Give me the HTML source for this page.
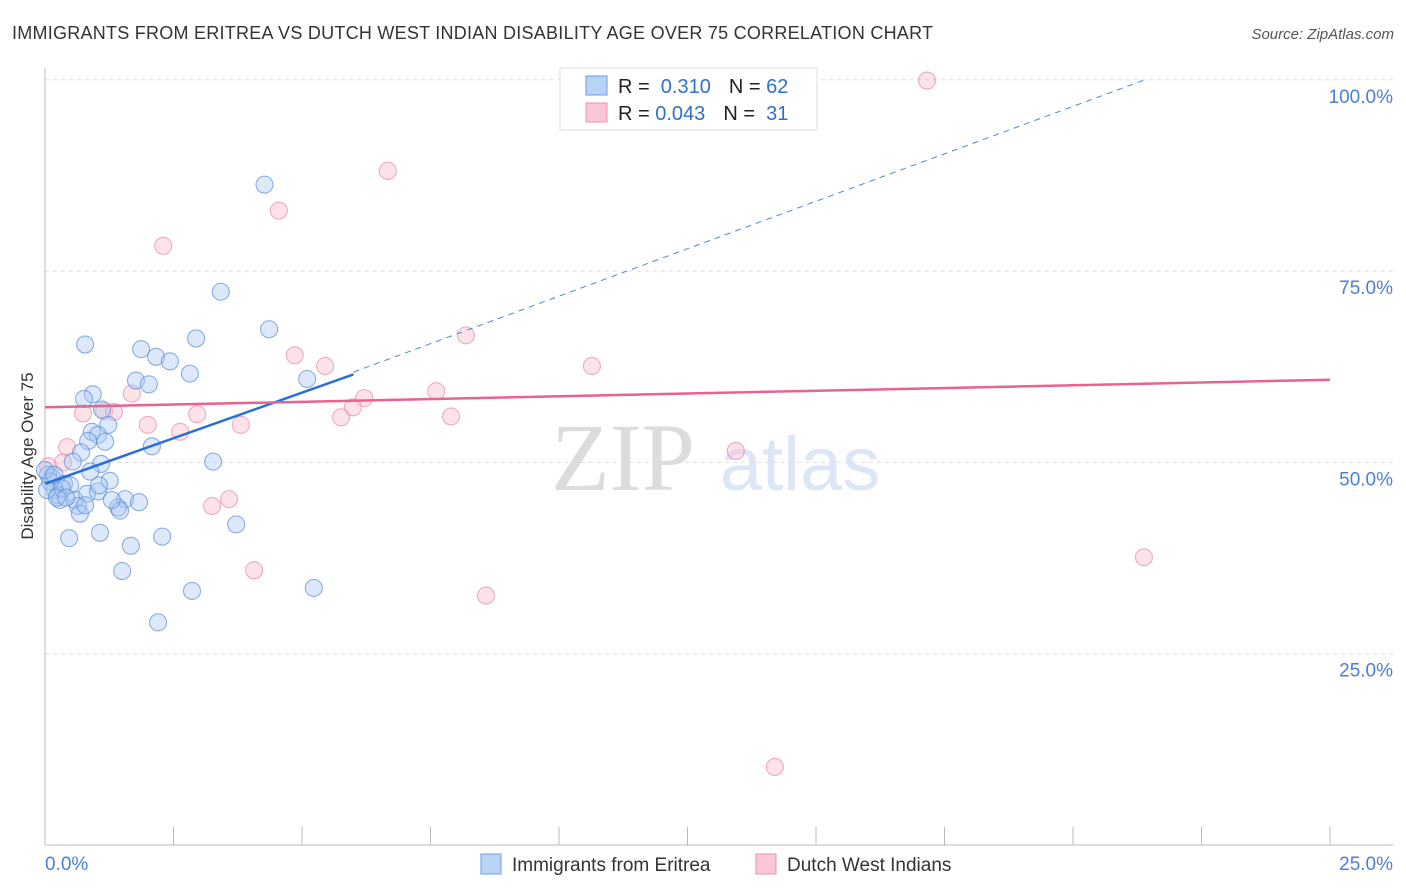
<!DOCTYPE html>
<html><head><meta charset="utf-8"><style>
body{margin:0;background:#fff;font-family:"Liberation Sans",sans-serif;}
svg{display:block}
</style></head><body>
<svg id="c" width="1406" height="892">
<text x="12" y="39" font-size="18" fill="#333" textLength="921">IMMIGRANTS FROM ERITREA VS DUTCH WEST INDIAN DISABILITY AGE OVER 75 CORRELATION CHART</text>
<text x="1394" y="39" font-size="15" fill="#555" font-style="italic" text-anchor="end">Source: ZipAtlas.com</text>
<text x="33" y="456" font-size="17" fill="#333" text-anchor="middle" transform="rotate(-90 33 456)">Disability Age Over 75</text>
<g>
<text x="623" y="490" font-size="96" fill="#dcdcdc" font-family="Liberation Serif,serif" text-anchor="middle">ZIP</text>
<text x="800" y="490" font-size="76" fill="#dbe6f7" text-anchor="middle">atlas</text>
</g>
<g id="grid"></g><g id="marks"></g>
<g>
<rect x="560" y="68" width="257" height="62" fill="#fff" stroke="#ddd"/>
<rect x="586" y="76" width="21" height="19" fill="#b9d3f7" stroke="#6c9de3"/>
<rect x="586" y="103" width="21" height="19" fill="#f9c7d5" stroke="#ec8fab"/>
<text x="618" y="93" font-size="20" fill="#222">R = <tspan fill="#2f6fd3">&#160;0.310</tspan><tspan dx="18">N = </tspan><tspan fill="#2f6fd3">62</tspan></text>
<text x="618" y="120" font-size="20" fill="#222">R = <tspan fill="#2f6fd3">0.043</tspan><tspan dx="18">N = </tspan><tspan fill="#2f6fd3">&#160;31</tspan></text>
</g>
<g>
<rect x="481" y="854" width="20" height="20" fill="#b9d3f7" stroke="#6c9de3"/>
<text x="512" y="871" font-size="19" fill="#333">Immigrants from Eritrea</text>
<rect x="756" y="854" width="20" height="20" fill="#f9c7d5" stroke="#ec8fab"/>
<text x="787" y="871" font-size="19" fill="#333">Dutch West Indians</text>
</g>
<text x="45" y="870" font-size="19" fill="#4a7fd6">0.0%</text>
<text x="1393" y="870" font-size="19" fill="#4a7fd6" text-anchor="end">25.0%</text>
</svg>
<script>
const yTicks=[25,50,75,100];
const blueX=[4.27,3.42,0.78,2.94,4.36,1.87,2.16,2.43,2.82,1.77,2.02,5.10,0.93,0.76,1.11,1.23,0.91,1.03,0.84,1.17,2.08,0.70,0.54,1.09,3.27,0.88,1.26,0.37,0.49,0.14,0.19,0.25,0.29,0.58,0.82,1.03,1.05,1.56,1.83,1.42,1.46,0.64,0.68,3.72,0.47,1.07,1.67,2.28,1.50,2.86,5.23,2.20,0.06,0.10,0.04,0.33,0.23,0.41,0.00,0.18,0.78,1.30];
const blueY=[86.3,72.3,65.4,66.2,67.4,64.8,63.8,63.2,61.6,60.7,60.2,60.9,58.9,58.3,56.9,54.9,54.0,53.6,52.8,52.7,52.1,51.3,50.1,49.8,50.1,48.8,47.6,47.2,47.0,48.0,46.4,45.7,45.1,45.1,45.9,46.2,47.0,45.2,44.8,44.1,43.7,44.3,43.3,41.9,40.1,40.8,39.1,40.3,35.8,33.2,33.6,29.1,48.4,47.5,46.4,46.6,45.4,45.4,49.0,48.4,44.4,45.1];
const pinkX=[17.16,6.67,4.55,2.30,4.86,5.45,8.19,10.64,7.61,6.21,5.99,5.76,7.90,1.69,1.15,1.34,2.96,2.00,3.81,2.63,0.43,0.74,13.44,0.35,3.58,3.25,21.38,4.07,8.58,14.20,0.06];
const pinkY=[99.9,88.1,82.9,78.3,64.0,62.6,66.6,62.6,59.3,58.4,57.2,55.9,56.0,59.0,56.7,56.6,56.3,54.9,54.9,54.0,52.0,56.4,51.5,50.0,45.2,44.3,37.6,35.9,32.6,10.2,49.5];
const X=v=>45+v*51.4, Y=v=>845-v*7.652;
const NS='http://www.w3.org/2000/svg';
function mk(p,t,a){const e=document.createElementNS(NS,t);for(const k in a)e.setAttribute(k,a[k]);p.appendChild(e);return e;}
const g=document.getElementById('grid'),m=document.getElementById('marks');
yTicks.forEach(t=>{
 const l=mk(g,'line',{x1:45,x2:1393,y1:Y(t),y2:Y(t),stroke:'#ddd','stroke-dasharray':'4 4'});
 
 
 const tx=mk(g,'text',{x:1393,y:Y(t)+23,'font-size':19,fill:'#4a7fd6','text-anchor':'end'});
 tx.textContent=t.toFixed(1)+'%';
 
 
});
const ax=mk(g,'line',{x1:45,x2:1393,y1:845,y2:845,stroke:'#bbb'});


const ay=mk(g,'line',{x1:45,x2:45,y1:68,y2:845,stroke:'#bbb'});


for(let i=1;i<=10;i++){const t=mk(g,'line',{x1:X(i*2.5),x2:X(i*2.5),y1:827,y2:845,stroke:'#bbb'});
 
 }
function pts(xs,ys,fill,stroke,name){xs.forEach((x,i)=>{
 const c=mk(m,'circle',{cx:X(x),cy:Y(ys[i]),r:8.5,fill:fill,'fill-opacity':0.4,stroke:stroke,'stroke-opacity':0.7,'stroke-width':1.1});
 
 });}
pts(pinkX,pinkY,'#f7b8cb','#e98aa8','pink-point');
pts(blueX,blueY,'#a9c8f2','#5a8fdc','blue-point');
const bd=mk(m,'line',{x1:X(6),y1:Y(61.8),x2:X(21.4),y2:Y(100),stroke:'#4f86d9','stroke-dasharray':'6 5','stroke-width':1});


const bl=mk(m,'line',{x1:X(0),y1:Y(47.2),x2:X(6),y2:Y(61.5),stroke:'#2a6fd6','stroke-width':2.5});


const pl=mk(m,'line',{x1:X(0),y1:Y(57.2),x2:X(25),y2:Y(60.8),stroke:'#e8638f','stroke-width':2.5});


</script>
</body></html>
